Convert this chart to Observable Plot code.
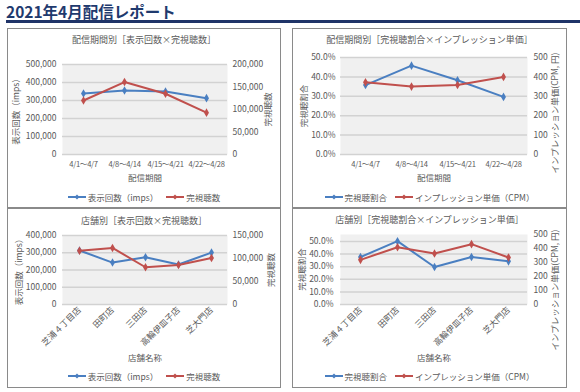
<!DOCTYPE html>
<html><head><meta charset="utf-8">
<script src="https://cdn.jsdelivr.net/npm/d3@7"></script>
<script src="https://cdn.jsdelivr.net/npm/@observablehq/plot@0.6"></script>
<style>
body{margin:0;background:#fff;font-family:"Noto Sans CJK JP","Noto Sans",sans-serif;color:#595959;}
#page{position:relative;width:580px;height:392px;overflow:hidden;}
.abs{position:absolute;}
.box{position:absolute;border:1.5px solid #8a8a8a;box-sizing:border-box;}
.ptitle{position:absolute;font-size:9px;text-align:center;line-height:12px;white-space:nowrap;}
.legend{position:absolute;display:flex;justify-content:center;gap:8px;font-size:8.5px;line-height:10px;white-space:nowrap;}
.legend span{display:flex;align-items:center;gap:2px;}
.vlabel{position:absolute;font-size:8.5px;line-height:10px;white-space:nowrap;transform:translate(-50%,-50%) rotate(-90deg);}
.narrow g[aria-label="x-axis tick label"] text{font-size:7.6px;letter-spacing:-0.3px;}
</style></head>
<body><div id="page"></div>
<script>
// ---- data ----
const periods = ["4/1～4/7", "4/8～4/14", "4/15～4/21", "4/22～4/28"];
const stores = ["芝浦４丁目店", "田町店", "三田店", "高輪伊皿子店", "芝大門店"];
const periodImps = [339000, 356000, 350000, 313000];
const periodViews = [120000, 161000, 135000, 93000];
const periodViewRate = [0.358, 0.458, 0.383, 0.297];
const periodCPM = [372, 350, 358, 400];
const storeImps = [313000, 243000, 274000, 232000, 301000];
const storeViews = [117000, 123000, 81000, 86000, 101000];
const storeViewRate = [0.376, 0.502, 0.297, 0.376, 0.342];
const storeCPM = [319, 409, 364, 431, 336];
const impsTicksA = [0, 100000, 200000, 300000, 400000, 500000];
const viewsTicksA = [0, 50000, 100000, 150000, 200000];
const impsTicksB = [0, 100000, 200000, 300000, 400000];
const viewsTicksB = [0, 50000, 100000, 150000];
const rateTicks = [0, 0.1, 0.2, 0.3, 0.4, 0.5];
const cpmTicks = [0, 100, 200, 300, 400, 500];
const titles = ["配信期間別［表示回数×完視聴数］", "配信期間別［完視聴割合×インプレッション単価］", "店舗別［表示回数×完視聴数］", "店舗別［完視聴割合×インプレッション単価］"];
const legendA = ["表示回数（imps）", "完視聴数"];
const legendB = ["完視聴割合", "インプレッション単価（CPM）"];
const cpmAxisTitle = "インプレッション単価(CPM, 円)";

const BLUE = "#4a7fc1", RED = "#c0504d";
const FONT = '"Noto Sans CJK JP","Noto Sans",sans-serif';
const page = document.getElementById("page");
const fmtNum = d => d3.format(",")(Math.round(d));
const fmtPct = d => d3.format(".1%")(d);

function add(html, cls, style) {
  const el = document.createElement("div");
  el.className = cls; el.innerHTML = html; Object.assign(el.style, style); page.appendChild(el); return el;
}
function swatch(c) {
  return `<svg width="18" height="8"><line x1="0" y1="4" x2="18" y2="4" stroke="${c}" stroke-width="2"/><path d="M9 1.5L11.5 4L9 6.5L6.5 4Z" fill="${c}"/></svg>`;
}

function panel(p) {
  const k = p.leftDomain[1] / p.rightDomain[1];
  const rows = p.cats.map((c, i) => ({c, l: p.left[i], r: p.right[i] * k}));
  const axStyle = {tickSize: 0, labelAnchor: "center", labelArrow: "none", fontSize: 8.5};
  const svg = Plot.plot({
    width: p.w, height: p.h,
    marginTop: p.mt, marginBottom: p.mb, marginLeft: p.ml, marginRight: p.mr,
    className: p.rotate ? "rot" : "narrow",
    style: {fontFamily: FONT, fontSize: "8.5px", color: "#595959", background: "transparent", overflow: "visible"},
    x: {type: "point", domain: p.cats, padding: 0.5},
    y: {domain: p.leftDomain},
    marks: [
      Plot.frame({fill: "#f0f0f0", stroke: null}),
      Plot.ruleY(p.leftTicks, {stroke: "#d2d2d2", strokeWidth: 1.5}),
      Plot.axisX({...axStyle, tickPadding: p.rotate ? 4 : 7, tickRotate: p.rotate ? -45 : 0, label: p.xLabel, labelOffset: p.xlo}),
      Plot.axisY(p.leftTicks, {...axStyle, tickPadding: p.lp, tickFormat: p.leftFmt, label: p.leftLabel, labelOffset: p.llo}),
      Plot.axisY(p.rightTicks.map(d => d * k), {...axStyle, anchor: "right", tickPadding: p.rp, tickFormat: d => p.rightFmt(d / k), label: p.rightLabel, labelOffset: p.rlo}),
      Plot.line(rows, {x: "c", y: "l", stroke: BLUE, strokeWidth: 2}),
      Plot.dot(rows, {x: "c", y: "l", fill: BLUE, symbol: "diamond", r: 2.6}),
      Plot.line(rows, {x: "c", y: "r", stroke: RED, strokeWidth: 2}),
      Plot.dot(rows, {x: "c", y: "r", fill: RED, symbol: "diamond", r: 2.6})
    ]
  });
  svg.style.position = "absolute"; svg.style.left = p.x + "px"; svg.style.top = p.y + "px";
  page.appendChild(svg);
}

// header
add("2021年4月配信レポート", "abs", {left: "6px", top: "0px", fontSize: "15.5px", fontWeight: "bold", color: "#1f3a6e", lineHeight: "22px"});
add("", "abs", {left: "6px", top: "20px", width: "574px", height: "3px", background: "#1f3468"});

// boxes
const boxes = [[7, 28, 274, 181], [292, 28, 275, 181], [7, 207, 274, 181], [292, 207, 275, 181]];
boxes.forEach(([x, y, w, h]) => add("", "box", {left: x + "px", top: y + "px", width: w + "px", height: h + "px"}));

// panel titles
const tpos = [[7, 34, 274], [292, 34, 275], [7, 215, 274], [292, 214, 275]];
tpos.forEach(([x, y, w], i) => add(titles[i], "ptitle", {left: x + "px", top: y + "px", width: w + "px"}));

panel({x: 7, y: 50, w: 274, h: 132, mt: 14, mb: 28, ml: 55, mr: 54, cats: periods,
  left: periodImps, right: periodViews, leftDomain: [0, 500000], rightDomain: [0, 200000],
  leftTicks: impsTicksA, rightTicks: viewsTicksA, leftFmt: fmtNum, rightFmt: fmtNum,
  leftLabel: "表示回数（imps）", rightLabel: "完視聴数", xLabel: "配信期間",
  lp: 6, rp: 5, llo: 50, rlo: 43, xlo: 26});
panel({x: 292, y: 50, w: 275, h: 132, mt: 7, mb: 28, ml: 48, mr: 40, cats: periods,
  left: periodViewRate, right: periodCPM, leftDomain: [0, 0.5], rightDomain: [0, 500],
  leftTicks: rateTicks, rightTicks: cpmTicks, leftFmt: fmtPct, rightFmt: fmtNum,
  leftLabel: "完視聴割合", rightLabel: null, xLabel: "配信期間",
  lp: 5, rp: 6, llo: 40, rlo: 31, xlo: 26});
panel({x: 7, y: 225, w: 274, h: 137, mt: 10, mb: 58, ml: 55, mr: 54, cats: stores, rotate: true,
  left: storeImps, right: storeViews, leftDomain: [0, 400000], rightDomain: [0, 150000],
  leftTicks: impsTicksB, rightTicks: viewsTicksB, leftFmt: fmtNum, rightFmt: fmtNum,
  leftLabel: "表示回数（imps）", rightLabel: "完視聴数", xLabel: "店舗名称",
  lp: 6, rp: 5, llo: 47, rlo: 46, xlo: 56});
panel({x: 292, y: 225, w: 275, h: 137, mt: 9, mb: 58, ml: 48, mr: 40, cats: stores, rotate: true,
  left: storeViewRate, right: storeCPM, leftDomain: [0, 0.555], rightDomain: [0, 500],
  leftTicks: rateTicks, rightTicks: cpmTicks, leftFmt: fmtPct, rightFmt: fmtNum,
  leftLabel: "完視聴割合", rightLabel: null, xLabel: "店舗名称",
  lp: 7, rp: 6, llo: 42, rlo: 31, xlo: 56});

// long right-axis titles (extend below the plot, as in the reference)
add(cpmAxisTitle, "vlabel", {left: "554px", top: "113px"});
add(cpmAxisTitle, "vlabel", {left: "554px", top: "290px"});

// legends
const lpos = [[7, 192, 274, legendA], [292, 192, 275, legendB], [7, 371, 274, legendA], [292, 371, 275, legendB]];
lpos.forEach(([x, y, w, names]) => add(
  `<span>${swatch(BLUE)}${names[0]}</span><span>${swatch(RED)}${names[1]}</span>`,
  "legend", {left: x + "px", top: y + "px", width: w + "px"}));
</script></body></html>
